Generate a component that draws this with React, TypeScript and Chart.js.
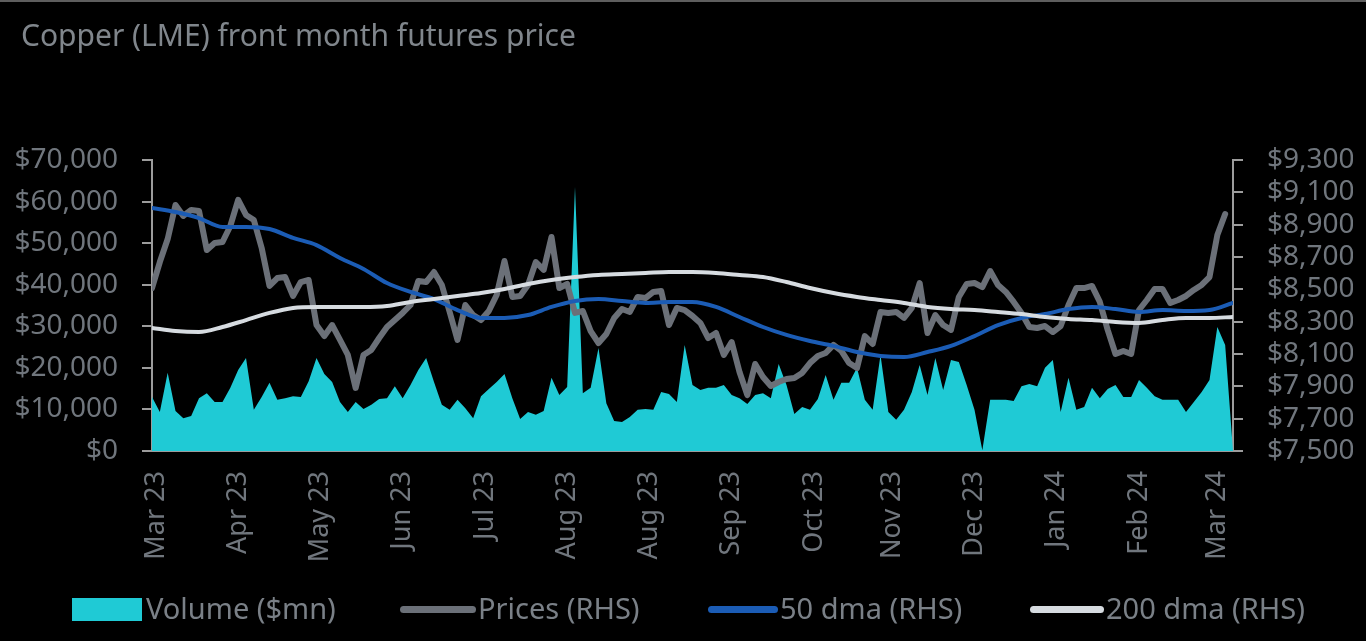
import React, { useEffect, useRef } from "react";
import { Chart, registerables } from "chart.js";

Chart.register(...registerables);

// ---------- data ----------
const title = "Copper (LME) front month futures price";

const xLabels = ["Mar 23", "Apr 23", "May 23", "Jun 23", "Jul 23", "Aug 23", "Aug 23", "Sep 23", "Oct 23", "Nov 23", "Dec 23", "Jan 24", "Feb 24", "Mar 24"];
const xTickIdx = [1, 22, 43, 64, 85, 106, 127, 148, 169, 189, 210, 231, 252, 272];
const lastIdx = 276;

// trading-day step of the sampled series
const volumeStep = 2;
const priceStep = 2;
const maStep = 6;

// Volume ($mn), left axis
const volume = [
  13000, 9400, 18800, 9600, 7900, 8400, 12700, 13900, 11800, 11800,
  15200, 19500, 22400, 9900, 13000, 16400, 12300, 12700, 13200, 13000,
  16800, 22400, 18500, 16600, 11800, 9400, 11800, 10100, 11100, 12500,
  12700, 15600, 12700, 15900, 19500, 22400, 16600, 11100, 9900, 12300,
  10300, 7900, 13200, 14900, 16600, 18500, 12700, 7700, 9400, 8700,
  9600, 17600, 13500, 15400, 63500, 13900, 15200, 24800, 11500, 7200,
  7000, 8200, 9900, 10100, 9900, 14200, 13700, 11800, 25500, 15900,
  14700, 15200, 15200, 15900, 13500, 12700, 11300, 13500, 13900, 12700,
  20900, 15900, 8900, 10600, 9900, 12500, 18300, 12300, 16400, 16400,
  20000, 12300, 9900, 23100, 9400, 7500, 9900, 14200, 20700, 13500,
  22400, 14700, 21900, 21400, 15900, 9900, 200, 12300, 12300, 12300,
  12000, 15600, 16100, 15600, 20000, 21900, 9400, 17600, 9900, 10600,
  15200, 12700, 14900, 15900, 13000, 13000, 17100, 15200, 13200, 12300,
  12300, 12300, 9400, 11800, 14200, 17100, 29800, 25500, 0,
];

// Prices (RHS)
const prices = [
  8508, 8669, 8811, 9022, 8954, 8991, 8985, 8743, 8787, 8793,
  8892, 9053, 8960, 8929, 8756, 8521, 8570, 8576, 8459, 8545,
  8558, 8279, 8211, 8279, 8187, 8094, 7890, 8094, 8125, 8199,
  8267, 8310, 8354, 8403, 8552, 8545, 8607, 8527, 8360, 8187,
  8403, 8341, 8310, 8366, 8465, 8675, 8453, 8459, 8527, 8669,
  8620, 8824, 8508, 8533, 8354, 8366, 8242, 8168, 8224, 8323,
  8378, 8360, 8453, 8446, 8484, 8490, 8279, 8385, 8372, 8335,
  8292, 8199, 8230, 8094, 8174, 7989, 7846, 8038, 7958, 7902,
  7927, 7945, 7952, 7983, 8044, 8088, 8106, 8156, 8119, 8044,
  8013, 8211, 8162, 8360, 8354, 8360, 8323, 8385, 8539, 8230,
  8341, 8279, 8249, 8453, 8533, 8539, 8514, 8613, 8527, 8484,
  8422, 8354, 8267, 8261, 8273, 8236, 8273, 8403, 8508, 8508,
  8521, 8422, 8249, 8100, 8119, 8100, 8372, 8434, 8502, 8502,
  8416, 8434, 8459, 8496, 8527, 8576, 8836, 8966,
];

// 50 dma (RHS)
const ma50 = [
  9003, 8978, 8941, 8886, 8886, 8873, 8818, 8774, 8694, 8626,
  8539, 8484, 8440, 8372, 8323, 8323, 8341, 8391, 8428, 8440,
  8428, 8416, 8422, 8422, 8391, 8329, 8267, 8218, 8180, 8150,
  8112, 8088, 8081, 8112, 8150, 8211, 8279, 8323, 8347, 8378,
  8391, 8378, 8360, 8372, 8366, 8372, 8416,
];

// 200 dma (RHS)
const ma200 = [
  8261, 8242, 8236, 8267, 8310, 8354, 8385, 8391, 8391, 8391,
  8397, 8422, 8440, 8459, 8477, 8502, 8533, 8558, 8576, 8589,
  8595, 8601, 8607, 8607, 8601, 8589, 8576, 8545, 8508, 8477,
  8453, 8434, 8416, 8391, 8378, 8372, 8360, 8347, 8329, 8317,
  8310, 8298, 8292, 8310, 8323, 8323, 8329,
];

const seriesNames = ["Volume ($mn)", "Prices (RHS)", "50 dma (RHS)", "200 dma (RHS)"];

// ---------- style ----------
const FONT = "'Noto Sans', 'Open Sans', sans-serif";
const C_VOLUME = "#1fcad5";
const C_PRICE = "#6b7078";
const C_MA50 = "#1b5cb5";
const C_MA200 = "#d6dbe0";
const C_TEXT = "#70767d";
const C_AXIS = "#9c9c9c";

const W = 1366;
const H = 641;

const toPts = (arr: number[], step: number) => arr.map((v, i) => ({ x: i * step, y: v }));
const money = (v: number) => "$" + Math.round(v).toLocaleString("en-US");

export default function App() {
  const ref = useRef<HTMLCanvasElement | null>(null);

  useEffect(() => {
    if (!ref.current) return;
    const chart = new Chart(ref.current, {
      type: "line",
      data: {
        datasets: [
          {
            label: seriesNames[0],
            data: toPts(volume, volumeStep),
            yAxisID: "yL",
            fill: "origin",
            backgroundColor: C_VOLUME,
            borderColor: C_VOLUME,
            borderWidth: 0,
            pointRadius: 0,
            tension: 0,
            order: 4,
          },
          {
            label: seriesNames[1],
            data: toPts(prices, priceStep),
            yAxisID: "yR",
            borderColor: C_PRICE,
            borderWidth: 6,
            pointRadius: 0,
            tension: 0,
            borderJoinStyle: "round",
            borderCapStyle: "round",
            fill: false,
            order: 3,
          },
          {
            label: seriesNames[2],
            data: toPts(ma50, maStep),
            yAxisID: "yR",
            borderColor: C_MA50,
            borderWidth: 4,
            pointRadius: 0,
            tension: 0.4,
            cubicInterpolationMode: "monotone",
            borderCapStyle: "round",
            fill: false,
            order: 2,
          },
          {
            label: seriesNames[3],
            data: toPts(ma200, maStep),
            yAxisID: "yR",
            borderColor: C_MA200,
            borderWidth: 4,
            pointRadius: 0,
            tension: 0.4,
            cubicInterpolationMode: "monotone",
            borderCapStyle: "round",
            fill: false,
            order: 1,
          },
        ],
      },
      options: {
        responsive: false,
        animation: false,
        devicePixelRatio: 1,
        layout: { padding: { left: 15, right: 13, top: 160, bottom: 40 } },
        plugins: {
          legend: { display: false },
          title: { display: false },
          tooltip: { enabled: false },
        },
        scales: {
          x: {
            type: "linear",
            min: 0,
            max: lastIdx,
            afterBuildTicks: (scale: any) => {
              scale.ticks = xTickIdx.map((v) => ({ value: v }));
            },
            afterFit: (scale: any) => {
              scale.height = 150;
            },
            ticks: {
              autoSkip: false,
              maxRotation: 90,
              minRotation: 90,
              padding: 20,
              color: C_TEXT,
              font: { family: FONT, size: 27 },
              callback: (_v: any, i: number) => xLabels[i],
            },
            grid: { drawOnChartArea: false, drawTicks: false },
            border: { display: true, color: C_AXIS, width: 2 },
          },
          yL: {
            type: "linear",
            position: "left",
            min: 0,
            max: 70000,
            afterFit: (scale: any) => {
              scale.width = 137;
            },
            ticks: {
              autoSkip: false,
              stepSize: 10000,
              padding: 24,
              color: C_TEXT,
              font: { family: FONT, size: 28 },
              callback: (v: any) => money(Number(v)),
            },
            grid: { drawOnChartArea: false, drawTicks: true, tickLength: 10, color: C_AXIS, lineWidth: 2 },
            border: { display: true, color: C_AXIS, width: 2 },
          },
          yR: {
            type: "linear",
            position: "right",
            min: 7500,
            max: 9300,
            afterFit: (scale: any) => {
              scale.width = 120;
            },
            ticks: {
              autoSkip: false,
              stepSize: 200,
              padding: 24,
              color: C_TEXT,
              font: { family: FONT, size: 28 },
              callback: (v: any) => money(Number(v)),
            },
            grid: { drawOnChartArea: false, drawTicks: true, tickLength: 10, color: C_AXIS, lineWidth: 2 },
            border: { display: true, color: C_AXIS, width: 2 },
          },
        },
      } as any,
    });
    return () => chart.destroy();
  }, []);

  const legend = [
    { label: seriesNames[0], kind: "box", color: C_VOLUME, left: 72, w: 70, textLeft: 146 },
    { label: seriesNames[1], kind: "line", color: C_PRICE, left: 400, w: 76, textLeft: 478 },
    { label: seriesNames[2], kind: "line", color: C_MA50, left: 708, w: 70, textLeft: 780 },
    { label: seriesNames[3], kind: "line", color: C_MA200, left: 1030, w: 74, textLeft: 1106 },
  ];

  return (
    <div
      style={{
        position: "fixed",
        left: 0,
        top: 0,
        width: W,
        height: H,
        background: "#000",
        overflow: "hidden",
        borderTop: "2px solid #5e5e5e",
        boxSizing: "border-box",
      }}
    >
      <canvas ref={ref} width={W} height={H} style={{ position: "absolute", left: 0, top: -2, width: W, height: H }} />
      <div
        style={{
          position: "absolute",
          left: 21,
          top: 18,
          fontFamily: FONT,
          fontSize: 30,
          lineHeight: "30px",
          color: "#80868c",
          whiteSpace: "nowrap",
        }}
      >
        {title}
      </div>
      {legend.map((it) => (
        <React.Fragment key={it.label}>
          <div
            style={{
              position: "absolute",
              left: it.left,
              top: it.kind === "box" ? 596 : 604,
              width: it.w,
              height: it.kind === "box" ? 23 : 7,
              background: it.color,
              borderRadius: it.kind === "box" ? 0 : 4,
            }}
          />
          <div
            style={{
              position: "absolute",
              left: it.textLeft,
              top: 591,
              fontFamily: FONT,
              fontSize: 29,
              lineHeight: "29px",
              color: "#7a8087",
              whiteSpace: "nowrap",
            }}
          >
            {it.label}
          </div>
        </React.Fragment>
      ))}
    </div>
  );
}
